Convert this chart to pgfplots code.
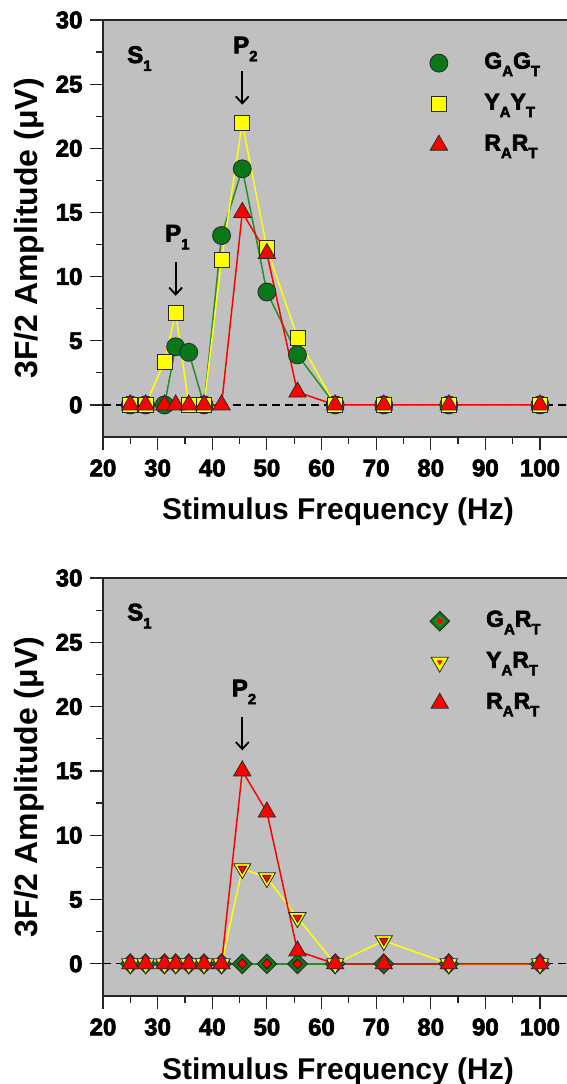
\documentclass[border=0pt]{standalone}
\usepackage{fontspec}
\setmainfont{Liberation Sans}
\newfontfamily\hv{Liberation Sans}[BoldFeatures={FakeBold=3}]
\usepackage{pgfplots}
\pgfplotsset{compat=1.18}
\usetikzlibrary{arrows.meta}

\definecolor{bg}{RGB}{192,192,192}
\definecolor{mgreen}{RGB}{10,120,25}
\definecolor{lgreen}{RGB}{40,140,40}
\definecolor{myellow}{RGB}{255,255,0}
\definecolor{mred}{RGB}{255,0,0}
\definecolor{edge}{RGB}{40,40,40}

\newcommand{\sub}[1]{\raisebox{-0.33em}{\fontsize{15}{15}\selectfont\hv\bfseries #1}}

\pgfplotstableread{
x     gg    yy    rr
25.0  0     0     0
27.8  0     0     0
31.25 0     3.37  0
33.3  4.53  7.2   0
35.7  4.1   0     0
38.5  0     0     0
41.7  13.2  11.27 0
45.5  18.4  21.97 15.0
50.0  8.8   12.2  11.8
55.6  3.9   5.26  1.0
62.5  0     0     0
71.4  0     0     0
83.3  0     0     0
100   0     0     0
}\topdata

\pgfplotstableread{
x     gr    yr    rr
25.0  0     0     0
27.8  0     0     0
31.25 0     0     0
33.3  0     0     0
35.7  0     0     0
38.5  0     0     0
41.7  0     0     0
45.5  0     7.4   15.0
50.0  0     6.7   11.8
55.6  0     3.6   1.0
62.5  0     0     0
71.4  0     1.8   0
83.3  0     0     0
100   0     0     0
}\botdata

\tikzset{annot/.style={anchor=base west, inner sep=0pt, font=\fontsize{24}{24}\selectfont\hv\bfseries}}

\pgfplotsset{
 myaxis/.style={
  scale only axis, width=470pt,
  xmin=20, xmax=106.04, ymin=-2.5, ymax=30,
  xtick={20,30,...,100}, minor x tick num=1,
  ytick={0,5,...,30}, minor y tick num=1,
  tick pos=left, tick align=outside,
  major tick length=13pt, minor tick length=7pt,
  axis background/.style={fill=bg},
  axis line style={line width=1.2pt, black!85},
  every tick/.style={line width=1.2pt, black!85},
  xticklabel style={font=\fontsize{24}{24}\selectfont\hv\bfseries, yshift=-6pt},
  yticklabel style={font=\fontsize{24}{24}\selectfont\hv\bfseries, xshift=-4pt},
  /pgf/number format/assume math mode=true,
  xlabel={Stimulus Frequency (Hz)},
  ylabel={3F/2 Amplitude (μV)},
  every axis x label/.style={at={(axis description cs:0.5,0)}, anchor=base, yshift=-83pt,
    font=\fontsize{30}{30}\selectfont\bfseries},
  every axis y label/.style={at={(axis description cs:-0.1404,0.5)}, rotate=90, anchor=base,
    font=\fontsize{32}{32}\selectfont\bfseries},
  legend style={at={(axis cs:79.8,27.55)}, anchor=north west, draw=none, fill=none,
    inner sep=0pt, font=\fontsize{23}{23}\selectfont\hv\bfseries,
    nodes={inner sep=0pt, text height=17pt, text depth=6pt}, row sep=18pt,
    /tikz/every odd column/.append style={column sep=36.5pt}},
  legend cell align=left,
  clip=false,
 },
 zline/.style={black, dashed, line width=1.2pt, dash pattern=on 8pt off 5pt, forget plot},
}

\begin{document}
\begin{tikzpicture}
% ---------- top panel ----------
\begin{axis}[myaxis, height=417pt, at={(103pt,647pt)}, anchor=south west]
\addplot[zline] coordinates {(20,0) (106.04,0)};
\addplot[lgreen, line width=1.5pt, mark=*, mark size=9pt,
  mark options={solid, fill=mgreen, draw=edge, line width=0.8pt},
  legend image code/.code={
    \draw plot[only marks, mark=*, mark size=9pt, mark options={fill=mgreen, draw=edge, line width=0.8pt}] coordinates {(0.3cm,0cm)};}
  ] table[x=x,y=gg] {\topdata};
\addlegendentry{G\sub{A}G\sub{T}}
\addplot[myellow, line width=1.5pt, mark=square*, mark size=7.5pt,
  mark options={solid, fill=myellow, draw=edge, line width=0.8pt},
  legend image code/.code={
    \draw plot[only marks, mark=square*, mark size=7.5pt, mark options={fill=myellow, draw=edge, line width=0.8pt}] coordinates {(0.3cm,0cm)};}
  ] table[x=x,y=yy] {\topdata};
\addlegendentry{Y\sub{A}Y\sub{T}}
\addplot[mred, line width=1.5pt, mark=triangle*, mark size=10pt,
  mark options={solid, fill=mred, draw=edge, line width=0.8pt},
  legend image code/.code={
    \draw plot[only marks, mark=triangle*, mark size=10pt, mark options={fill=mred, draw=edge, line width=0.8pt}] coordinates {(0.3cm,0cm)};}
  ] table[x=x,y=rr] {\topdata};
\addlegendentry{R\sub{A}R\sub{T}}
\node[annot] at (axis cs:24.4,26.65) {S\sub{1}};
\node[annot] at (axis cs:43.8,27.4) {P\sub{2}};
\node[annot] at (axis cs:31.35,12.74) {P\sub{1}};
\draw[line width=1.8pt, -{Straight Barb[length=7pt,width=13pt,line width=1.8pt]}] (axis cs:45.5,26.0) -- (axis cs:45.5,23.4);
\draw[line width=1.8pt, -{Straight Barb[length=7pt,width=13pt,line width=1.8pt]}] (axis cs:33.3,11.1) -- (axis cs:33.3,8.5);
\end{axis}
% ---------- bottom panel ----------
\begin{axis}[myaxis, height=418pt, at={(103pt,88pt)}, anchor=south west]
\addplot[zline] coordinates {(20,0) (106.04,0)};
\addplot[lgreen, line width=1.5pt, mark=square*, mark size=7pt,
  mark options={solid, rotate=45, fill=mgreen, draw=edge, line width=0.8pt},
  legend image code/.code={
    \draw plot[only marks, mark=square*, mark size=7pt, mark options={rotate=45, fill=mgreen, draw=edge, line width=0.8pt}] coordinates {(0.3cm,0cm)};
    \draw plot[only marks, mark=square*, mark size=3.4pt, mark options={rotate=45, fill=mred, draw=none}] coordinates {(0.3cm,0cm)};}
  ] table[x=x,y=gr] {\botdata};
\addlegendentry{G\sub{A}R\sub{T}}
\addplot[only marks, forget plot, mark=square*, mark size=3.4pt,
  mark options={rotate=45, fill=mred, draw=none}] table[x=x,y=gr] {\botdata};
\addplot[myellow, line width=1.5pt, mark=triangle*, mark size=10pt,
  mark options={solid, rotate=180, fill=myellow, draw=edge, line width=0.8pt},
  legend image code/.code={
    \draw plot[only marks, mark=triangle*, mark size=10pt, mark options={rotate=180, fill=myellow, draw=edge, line width=0.8pt}] coordinates {(0.3cm,0cm)};
    \draw plot[only marks, mark=triangle*, mark size=5pt, mark options={rotate=180, fill=mred, draw=none}] coordinates {(0.3cm,0cm)};}
  ] table[x=x,y=yr] {\botdata};
\addlegendentry{Y\sub{A}R\sub{T}}
\addplot[only marks, forget plot, mark=triangle*, mark size=5pt,
  mark options={rotate=180, fill=mred, draw=none}] table[x=x,y=yr] {\botdata};
\addplot[mred, line width=1.5pt, mark=triangle*, mark size=10pt,
  mark options={solid, fill=mred, draw=edge, line width=0.8pt},
  legend image code/.code={
    \draw plot[only marks, mark=triangle*, mark size=10pt, mark options={fill=mred, draw=edge, line width=0.8pt}] coordinates {(0.3cm,0cm)};}
  ] table[x=x,y=rr] {\botdata};
\addlegendentry{R\sub{A}R\sub{T}}
\node[annot] at (axis cs:24.4,26.7) {S\sub{1}};
\node[annot] at (axis cs:43.55,20.8) {P\sub{2}};
\draw[line width=1.8pt, -{Straight Barb[length=7pt,width=13pt,line width=1.8pt]}] (axis cs:45.5,19.2) -- (axis cs:45.5,16.6);
\end{axis}
\pgfresetboundingbox
\path (0pt,0pt) rectangle (566pt,1084pt);
\end{tikzpicture}
\end{document}
